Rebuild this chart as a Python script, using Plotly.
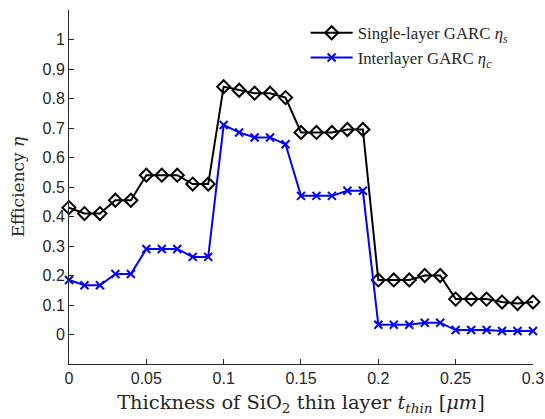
import plotly.graph_objects as go

thickness = [round(i * 0.01, 2) for i in range(31)]
eta_single = [0.43, 0.41, 0.41, 0.455, 0.455, 0.54, 0.54, 0.54, 0.51, 0.51,
              0.84, 0.828, 0.818, 0.818, 0.803, 0.685, 0.685, 0.685, 0.695, 0.695,
              0.185, 0.185, 0.185, 0.2, 0.2, 0.12, 0.12, 0.12, 0.11, 0.105, 0.11]
eta_inter = [0.185, 0.167, 0.167, 0.205, 0.205, 0.29, 0.29, 0.29, 0.263, 0.263,
             0.71, 0.685, 0.668, 0.668, 0.645, 0.47, 0.47, 0.47, 0.487, 0.487,
             0.033, 0.033, 0.033, 0.04, 0.04, 0.015, 0.015, 0.015, 0.012, 0.012, 0.012]
x_ticks = [0, 0.05, 0.1, 0.15, 0.2, 0.25, 0.3]
x_tick_labels = ["0", "0.05", "0.1", "0.15", "0.2", "0.25", "0.3"]
y_ticks = [0, 0.1, 0.2, 0.3, 0.4, 0.5, 0.6, 0.7, 0.8, 0.9, 1]
y_tick_labels = ["0", "0.1", "0.2", "0.3", "0.4", "0.5", "0.6", "0.7", "0.8", "0.9", "1"]

fig = go.Figure()
fig.add_trace(go.Scatter(
    x=thickness, y=eta_single, mode="lines+markers",
    name="Single-layer GARC <i>η<sub>s</sub></i>",
    line=dict(color="black", width=2),
    marker=dict(symbol="diamond-open", size=10, color="black", line=dict(width=2)),
    cliponaxis=False,
))
fig.add_trace(go.Scatter(
    x=thickness, y=eta_inter, mode="lines+markers",
    name="Interlayer GARC <i>η<sub>c</sub></i>",
    line=dict(color="blue", width=2),
    marker=dict(symbol="x-thin-open", size=8, color="blue", line=dict(width=2, color="blue")),
    cliponaxis=False,
))

axis_common = dict(
    showgrid=False, zeroline=False, showline=True, linecolor="#262626", linewidth=1,
    ticks="inside", ticklen=5, tickcolor="#262626", ticklabeloverflow="allow",
    automargin=False,
    tickfont=dict(family="Liberation Sans, Arial", size=16, color="#262626"),
)
fig.update_xaxes(range=[0, 0.30001], tickvals=x_ticks, ticktext=x_tick_labels,
                 title=dict(text="Thickness of SiO<sub>2</sub> thin layer <i>t<sub>thin</sub></i> [<i>μm</i>]",
                            font=dict(family="DejaVu Serif, Liberation Serif", size=19.4, color="#262626"),
                            standoff=9),
                 **axis_common)
fig.update_yaxes(range=[-0.1, 1.1], tickvals=y_ticks, ticktext=y_tick_labels,
                 title=dict(text="Efficiency <i>η</i>",
                            font=dict(family="DejaVu Serif, Liberation Serif", size=17, color="#262626"),
                            standoff=13),
                 **axis_common)
fig.update_layout(
    width=545, height=419,
    margin=dict(l=69, r=12, t=10, b=55),
    paper_bgcolor="white", plot_bgcolor="white",
    legend=dict(x=0.51, y=0.985, xanchor="left", yanchor="top",
                font=dict(family="Liberation Serif, DejaVu Serif", size=16.8, color="#262626"),
                bgcolor="rgba(255,255,255,0)", tracegroupgap=0, itemwidth=42),
)
fig.write_html("out.html")
